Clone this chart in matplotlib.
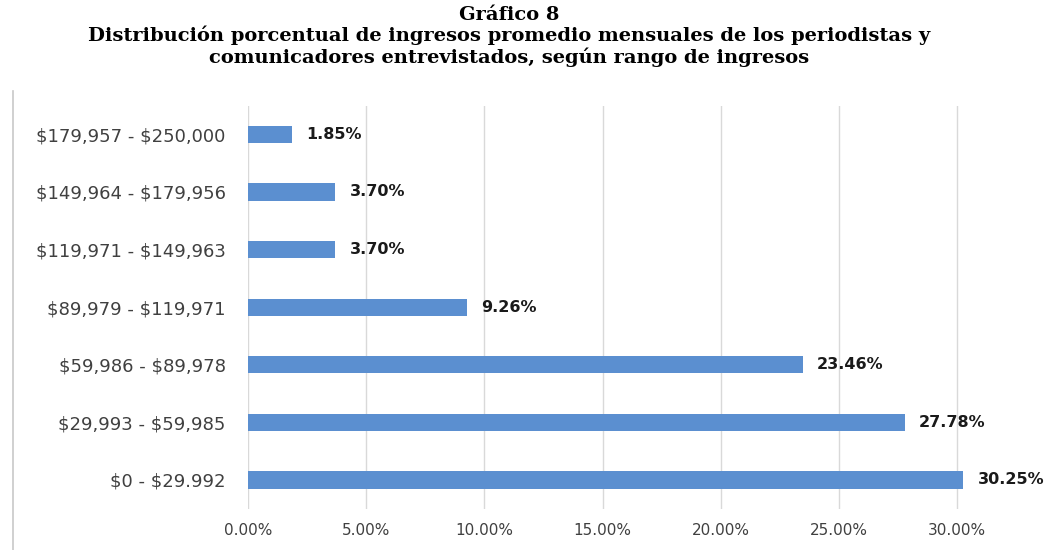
import matplotlib.pyplot as plt
from matplotlib.lines import Line2D

plt.rcParams['text.parse_math'] = False

# data (top to bottom)
ranges = ['$179,957 - $250,000', '$149,964 - $179,956', '$119,971 - $149,963',
          '$89,979 - $119,971', '$59,986 - $89,978', '$29,993 - $59,985',
          '$0 - $29.992']
percent = [1.85, 3.70, 3.70, 9.26, 23.46, 27.78, 30.25]
x_ticks = [0, 5, 10, 15, 20, 25, 30]

fig = plt.figure(figsize=(10.49, 5.5), dpi=100)
ax = fig.add_axes([0.2364, 0.075, 0.71, 0.733])

pos = list(range(len(ranges)))[::-1]
ax.barh(pos, percent, height=0.3, color='#5b8fd0', zorder=3)

for y, v in zip(pos, percent):
    ax.text(v + 0.6, y, f'{v:.2f}%', va='center', ha='left',
            fontsize=11.5, fontweight='bold', color='#1a1a1a')

ax.set_yticks(pos)
ax.set_yticklabels(ranges, fontsize=13, color='#404040')
ax.set_xticks(x_ticks)
ax.set_xticklabels([f'{t:.2f}%' for t in x_ticks], fontsize=11, color='#404040')
ax.set_xlim(0, 31.5)
ax.set_ylim(-0.5, 6.5)

ax.grid(axis='x', color='#d9d9d9', linewidth=1, zorder=0)
ax.tick_params(axis='y', length=0, pad=16)
ax.tick_params(axis='x', length=0, pad=10)
for s in ax.spines.values():
    s.set_visible(False)

title = ('Gráfico 8\n'
         'Distribución porcentual de ingresos promedio mensuales de los periodistas y\n'
         'comunicadores entrevistados, según rango de ingresos')
fig.text(0.485, 0.99, title, ha='center', va='top', fontsize=14,
         fontweight='bold', family='DejaVu Serif', linespacing=1.15)

# thin frame line on the left edge
fig.add_artist(Line2D([0.012, 0.012], [0.0, 0.835], color='#c8c8c8', linewidth=1.2))

fig.savefig('out.png', dpi=100)
